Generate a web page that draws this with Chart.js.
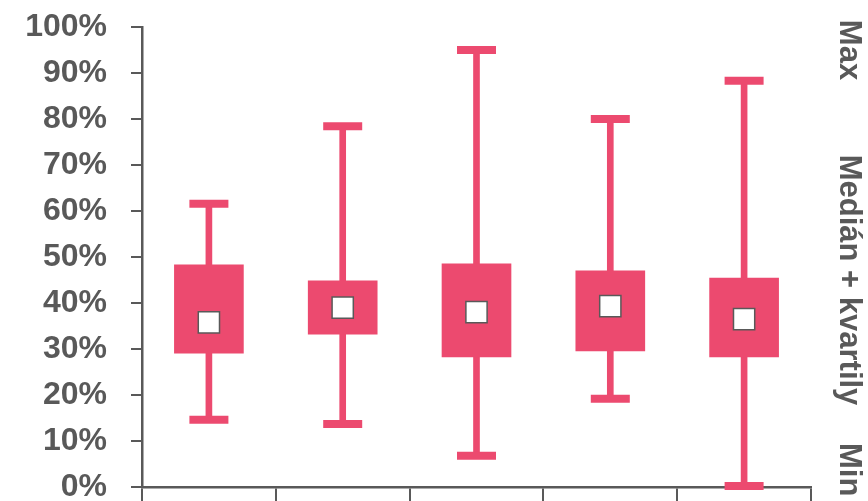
<!DOCTYPE html>
<html>
<head>
<meta charset="utf-8">
<script src="https://cdn.jsdelivr.net/npm/chart.js@4/dist/chart.umd.min.js"></script>
<style>
  html, body { margin: 0; padding: 0; background: #fff; }
  #wrap { width: 868px; height: 501px; }
</style>
</head>
<body>
<div id="wrap"><canvas id="box"></canvas></div>
<script>
// ── DATA ──
const categories = ['1', '2', '3', '4', '5'];
const minVals    = [14.6, 13.7, 6.8, 19.2, 0.2];
const q1Vals     = [29.1, 33.2, 28.3, 29.6, 28.3];
const medianVals = [35.8, 39.0, 38.0, 39.3, 36.5];
const q3Vals     = [48.3, 44.8, 48.5, 47.0, 45.4];
const maxVals    = [61.6, 78.4, 95.0, 80.0, 88.3];
const yTicks     = [0, 10, 20, 30, 40, 50, 60, 70, 80, 90, 100];
const sideLabels = ['Max', 'Medián + kvartily', 'Min'];

const PINK = '#ec4a6f';
const GREY = '#595959';

// ── RIGHT SIDE LABELS ──
const sideText = {
  id: 'sideText',
  afterDraw(chart) {
    const ctx = chart.ctx;
    ctx.save();
    ctx.fillStyle = GREY;
    ctx.font = 'bold 31px "Liberation Sans", Arial, sans-serif';
    ctx.textBaseline = 'alphabetic';
    const spots = [[50, 'center'], [280, 'center'], [443, 'left']];
    sideLabels.forEach((t, i) => {
      ctx.save();
      ctx.translate(840, spots[i][0]);
      ctx.rotate(Math.PI / 2);
      ctx.textAlign = spots[i][1];
      ctx.fillText(t, 0, 0);
      ctx.restore();
    });
    ctx.restore();
  }
};

new Chart(document.getElementById('box'), {
  type: 'bar',
  data: {
    labels: categories,
    datasets: [
      { // median square
        type: 'line', data: medianVals, showLine: false, order: 0, clip: false,
        pointStyle: 'rect', pointRadius: 15, pointHoverRadius: 15,
        pointBackgroundColor: '#fff', pointBorderColor: GREY, pointBorderWidth: 1.5,
      },
      { // whisker caps (max)
        type: 'line', data: maxVals, showLine: false, order: 1, clip: false,
        pointStyle: 'line', pointRadius: 19.5, pointHoverRadius: 19.5,
        pointBorderColor: PINK, pointBorderWidth: 8,
      },
      { // whisker caps (min)
        type: 'line', data: minVals, showLine: false, order: 1, clip: false,
        pointStyle: 'line', pointRadius: 19.5, pointHoverRadius: 19.5,
        pointBorderColor: PINK, pointBorderWidth: 8,
      },
      { // box q1..q3
        data: q1Vals.map((v, i) => [v, q3Vals[i]]), order: 2, grouped: false,
        backgroundColor: PINK, borderWidth: 0, barThickness: 69,
      },
      { // whisker min..max
        data: minVals.map((v, i) => [v, maxVals[i]]), order: 3, grouped: false,
        backgroundColor: PINK, borderWidth: 0, barThickness: 6,
      },
    ],
  },
  options: {
    responsive: true,
    maintainAspectRatio: false,
    animation: false,
    layout: { autoPadding: false, padding: { left: 25, right: 57, top: 27, bottom: 14 } },
    plugins: { legend: { display: false }, tooltip: { enabled: false } },
    scales: {
      x: {
        offset: true,
        afterFit: axis => { axis.height = 0; axis.paddingLeft = 0; axis.paddingRight = 0; },
        grid: { offset: true, drawOnChartArea: false, drawTicks: true, tickLength: 14, color: GREY, lineWidth: 2 },
        border: { color: GREY, width: 2.5 },
        ticks: { display: false },
      },
      y: {
        min: 0, max: 100,
        afterBuildTicks: axis => { axis.ticks = yTicks.map(v => ({ value: v })); },
        afterFit: axis => { axis.width = 117; axis.paddingTop = 0; axis.paddingBottom = 0; },
        grid: { drawOnChartArea: false, drawTicks: true, tickLength: 11, color: GREY, lineWidth: 2 },
        border: { color: GREY, width: 2.5 },
        ticks: {
          padding: 24, color: GREY,
          font: { family: '"Liberation Sans", Arial, sans-serif', size: 32, weight: 'bold' },
          callback: v => v + '%',
        },
      },
    },
  },
  plugins: [sideText],
});
</script>
</body>
</html>
